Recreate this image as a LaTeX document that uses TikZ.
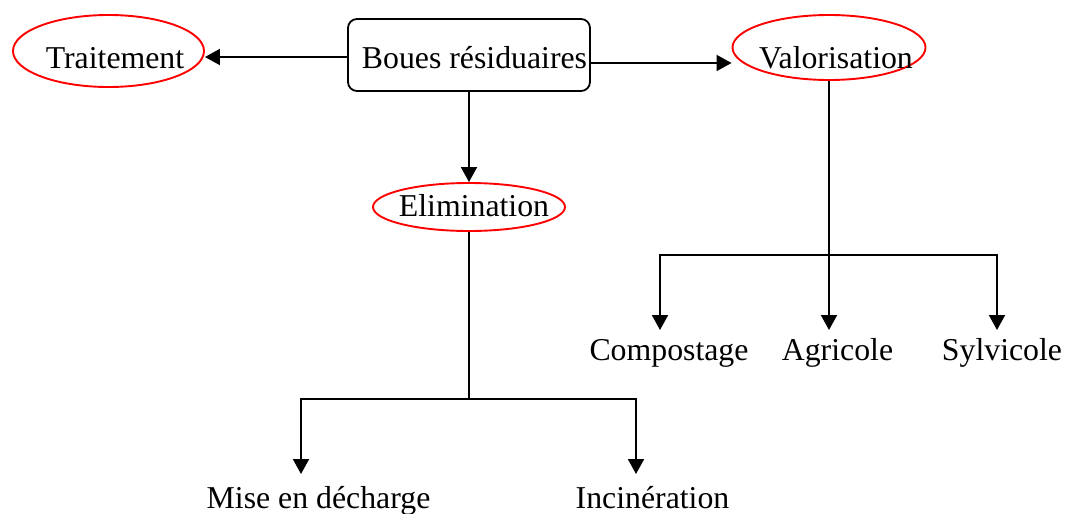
\documentclass[tikz,border=0pt]{standalone}
\usepackage{fontspec}
\setmainfont{Liberation Serif}
\usetikzlibrary{arrows.meta,shapes.geometric,calc}
\begin{document}
\begin{tikzpicture}[x=1pt,y=-1pt,
  lbl/.style={inner sep=0pt,anchor=base,font=\fontsize{31.8}{36}\selectfont},
  oval/.style={draw=red,line width=1.9pt,ellipse,inner sep=0pt},
  boxst/.style={draw,line width=1.8pt,rounded corners=9pt,inner sep=0pt},
  ln/.style={line width=1.9pt},
  tip/.style={},
  arr/.style={ln,-{Triangle[length=15pt,width=16pt]}},
  arrs/.style={ln,{Triangle[length=15pt,width=16pt]}-{Triangle[length=15pt,width=16pt]}}]
\useasboundingbox (0,0) rectangle (1071,514);
% ovals and box
\node[oval,minimum width=191pt,minimum height=72pt] (trait) at (108.5,51) {};
\node[lbl] (traitt) at (115,68) {Traitement};
\node[boxst,minimum width=242pt,minimum height=72pt] (box) at (469,55) {};
\node[lbl] (boxt) at (474.5,68) {Boues résiduaires};
\node[oval,minimum width=193pt,minimum height=65pt] (val) at (829,47.5) {};
\node[lbl] (valt) at (836,68) {Valorisation};
\node[oval,minimum width=192pt,minimum height=48pt] (elim) at (469,207) {};
\node[lbl] (elimt) at (474,216) {Elimination};
% leaves
\node[lbl] (comp) at (669,360) {Compostage};
\node[lbl] (agr) at (837.5,360) {Agricole};
\node[lbl] (syl) at (1002,360) {Sylvicole};
\node[lbl] (mise) at (318.5,508) {Mise en décharge};
\node[lbl] (inc) at (652.5,508) {Incinération};
% tips and bars
\coordinate (ctip) at (660,330);
\coordinate (atip) at (829,330);
\coordinate (stip) at (997,330);
\coordinate (vbar) at (829,255);
\coordinate (mtip) at (301,474);
\coordinate (itip) at (636,474);
\coordinate (ebar) at (469,399);
% connectors
\draw[arr] (box.west |- 0,57) -- (trait.east |- 0,57);
\draw[arr] (box.east |- 0,63) -- (val.west |- 0,63);
\draw[arr] (box.south) -- (elim.north);
\draw[arr] (val.south) -- (atip);
\draw[arrs] (ctip) |- (vbar) -| (stip);
\draw[ln] (elim.south) -- (ebar);
\draw[arrs] (mtip) |- (ebar) -| (itip);
\end{tikzpicture}
\end{document}
